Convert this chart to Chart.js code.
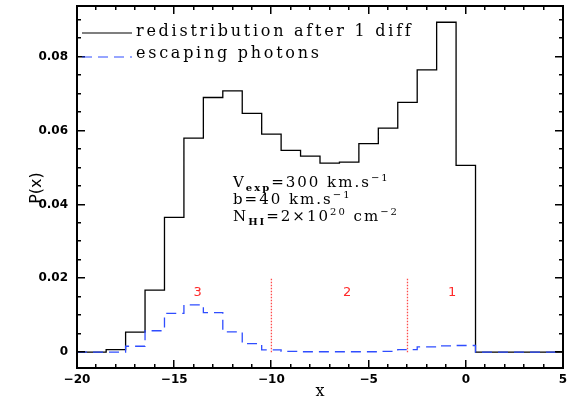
<!DOCTYPE html>
<html><head><meta charset="utf-8">
<script src="https://cdn.jsdelivr.net/npm/chart.js@4/dist/chart.umd.min.js"></script>
<style>html,body{margin:0;padding:0;background:#fff;}canvas{display:block;}</style>
</head><body>
<canvas id="c" width="573" height="401"></canvas>
<script>
// ---- data ----
const xBins = [-20,-19,-18,-17,-16,-15,-14,-13,-12,-11,-10,-9,-8,-7,-6,-5,-4,-3,-2,-1,0,1,2,3,4,5];
const redistribution = [0,0,0.0007,0.0054,0.0168,0.0365,0.0580,0.0690,0.0708,0.0647,0.0591,0.0547,0.0531,0.0512,0.0515,0.0565,0.0607,0.0677,0.0765,0.0894,0.0506,0,0,0,0,0];
const escaping = [0,0,0,0.0016,0.0058,0.0105,0.0128,0.0107,0.0055,0.0023,0.0006,0.0002,0.0001,0.0001,0.0001,0.0001,0.0002,0.0007,0.0014,0.0017,0.0018,0,0,0,0,0];
const seriesLabels = ['redistribution after 1 diff','escaping photons'];
const xTickValues = [-20,-15,-10,-5,0,5];
const yTickValues = [0,0.02,0.04,0.06,0.08];
const regionBounds = [-10,-3];
const regionLineTop = 0.0202;
const regionLabels = ['3','2','1'];
const regionLabelX = [-13.8,-6.1,-0.7];
const regionLabelY = 0.0160;

const BLUE = '#2f4dff', RED = '#ff2a2a';

const pts = (xs, ys) => xs.map((x,i)=>({x, y: ys[i]}));

function rich(ctx, parts, x, y, spacing){
  let cx = x;
  for (const p of parts){
    ctx.font = p.font;
    ctx.letterSpacing = spacing + 'px';
    ctx.fillText(p.t, cx, y + (p.dy||0));
    cx += ctx.measureText(p.t).width;
  }
}

const axisTicks = {
  id:'axisTicks',
  afterDraw(chart){
    const ctx = chart.ctx, a = chart.chartArea;
    const sx = chart.scales.x, sy = chart.scales.y;
    ctx.save();
    ctx.fillStyle = '#000';
    for (let v = -20; v <= 5; v += 1){
      const px = Math.round(sx.getPixelForValue(v));
      const L = (Math.abs(v) % 5 === 0) ? 8 : 4;
      ctx.fillRect(px - 1, a.bottom - L, 1.5, L);
      ctx.fillRect(px - 1, a.top, 1.5, L);
    }
    for (let k = 0; k <= 18; k++){
      const py = Math.round(sy.getPixelForValue(k * 0.005));
      if (py < a.top) continue;
      const L = (k % 4 === 0) ? 8 : 4;
      ctx.fillRect(a.left, py - 1, L, 1.5);
      ctx.fillRect(a.right - L, py - 1, L, 1.5);
    }
    ctx.strokeStyle = '#000';
    ctx.lineWidth = 2;
    ctx.strokeRect(a.left, a.top, a.right - a.left, a.bottom - a.top);
    ctx.restore();
  }
};

const decor = {
  id:'decor',
  afterDraw(chart){
    const ctx = chart.ctx, a = chart.chartArea;
    const sx = chart.scales.x, sy = chart.scales.y;
    ctx.save();
    // legend
    const ds = chart.data.datasets;
    ctx.lineWidth = 1.2;
    ctx.strokeStyle = ds[0].borderColor; ctx.setLineDash([]);
    ctx.beginPath(); ctx.moveTo(82, 33); ctx.lineTo(132, 33); ctx.stroke();
    ctx.strokeStyle = ds[1].borderColor; ctx.setLineDash(ds[1].borderDash);
    ctx.beginPath(); ctx.moveTo(82, 57); ctx.lineTo(132, 57); ctx.stroke();
    ctx.setLineDash([]);
    ctx.fillStyle = '#000';
    ctx.textBaseline = 'alphabetic'; ctx.textAlign = 'left';
    ctx.font = '16px "DejaVu Serif"'; ctx.letterSpacing = '0px';
    const sp = (277 - ctx.measureText(ds[0].label).width) / ds[0].label.length;
    ctx.letterSpacing = sp + 'px';
    ctx.fillText(ds[0].label, 136, 36);
    ctx.fillText(ds[1].label, 136, 58);

    // parameters annotation
    const big = '15px "DejaVu Serif"', sub = 'bold 10px "DejaVu Serif"', sup = '10px "DejaVu Serif"';
    rich(ctx, [{t:'V',font:big},{t:'exp',font:sub,dy:4},{t:'=300 km.s',font:big},{t:'\u22121',font:sup,dy:-6}], 233, 187, 2);
    rich(ctx, [{t:'b=40 km.s',font:big},{t:'\u22121',font:sup,dy:-6}], 233, 204, 2);
    rich(ctx, [{t:'N',font:big},{t:'HI',font:sub,dy:4},{t:'=2\u00d710',font:big},{t:'20',font:sup,dy:-6},{t:' cm',font:big},{t:'\u22122',font:sup,dy:-6}], 233, 221, 2);
    ctx.letterSpacing = '0px';

    // region labels
    ctx.fillStyle = RED; ctx.font = '13px "DejaVu Sans"';
    ctx.textAlign = 'center'; ctx.textBaseline = 'middle';
    regionLabels.forEach((t,i)=> ctx.fillText(t, sx.getPixelForValue(regionLabelX[i]), sy.getPixelForValue(regionLabelY)));

    // axis titles
    ctx.fillStyle = '#000';
    ctx.font = '16px "DejaVu Serif"';
    ctx.fillText('x', (a.left + a.right)/2, 392);
    ctx.translate(37, 188); ctx.rotate(-Math.PI/2);
    ctx.font = '16px "DejaVu Sans"';
    ctx.fillText('P(x)', 0, 0);
    ctx.restore();
  }
};

const tickFont = {family:'"DejaVu Sans"', size:12, weight:'bold'};
const datasets = [
  {label: seriesLabels[0], data: pts(xBins, redistribution), borderColor:'#000', borderWidth:1.3, stepped:'middle', pointRadius:0, fill:false, order:2},
  {label: seriesLabels[1], data: pts(xBins, escaping), borderColor:BLUE, borderWidth:1.3, borderDash:[10,6], stepped:'middle', pointRadius:0, fill:false, order:1},
];
regionBounds.forEach(b => datasets.push({label:'', data:[{x:b,y:0},{x:b,y:regionLineTop}], borderColor:'#ff4a4a', borderWidth:1.3, borderDash:[1.3,1.7], pointRadius:0, fill:false, order:3}));

new Chart(document.getElementById('c'), {
  type:'line',
  data:{datasets},
  plugins:[axisTicks, decor],
  options:{
    responsive:false, animation:false, devicePixelRatio:1,
    layout:{padding:{left:0, right:10, top:6, bottom:0}},
    plugins:{legend:{display:false}, tooltip:{enabled:false}},
    scales:{
      x:{type:'linear', min:-20, max:5,
         grid:{display:false, drawTicks:false}, border:{display:false},
         ticks:{padding:5, color:'#000', font:tickFont, maxRotation:0, autoSkip:false,
                callback:v => v < 0 ? '\u2212' + Math.abs(v) : String(v)},
         afterBuildTicks:s => { s.ticks = xTickValues.map(v=>({value:v})); },
         afterFit:s => { s.height = 33; s.paddingLeft = 0; s.paddingRight = 0; }},
      y:{type:'linear', min:-0.0043, max:0.0938,
         grid:{display:false, drawTicks:false}, border:{display:false},
         ticks:{padding:9, color:'#000', font:tickFont,
                callback:v => v === 0 ? '0' : v.toFixed(2)},
         afterBuildTicks:s => { s.ticks = yTickValues.map(v=>({value:v})); },
         afterFit:s => { s.width = 77; s.paddingTop = 0; s.paddingBottom = 0; }}
    }
  }
});
</script>
</body></html>
